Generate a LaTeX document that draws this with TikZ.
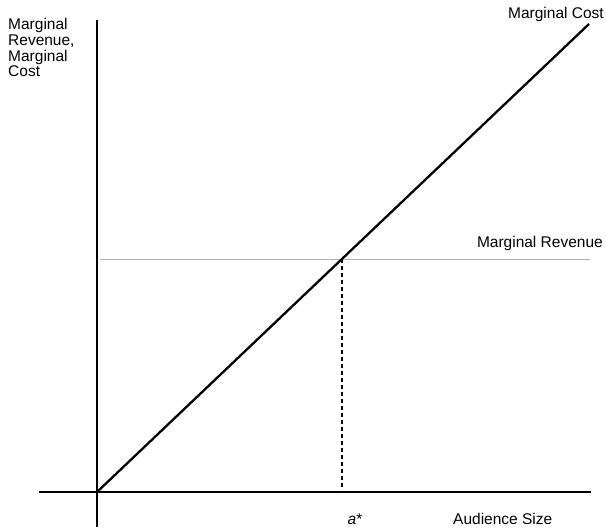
\documentclass[tikz,border=0pt]{standalone}
\usepackage{fontspec}
\setmainfont{Liberation Sans}
\usetikzlibrary{positioning}

\begin{document}
\begin{tikzpicture}[x=1pt,y=-1pt,
		axis/.style={line width=2.8pt},
		cost/.style={line width=2.3pt},
		revenue/.style={line width=0.9pt,black!30},
		guide/.style={line width=2.3pt,dash pattern=on 4pt off 3pt},
		lbl/.style={font=\fontsize{15.5}{15.8}\selectfont,inner sep=0pt}]
		\useasboundingbox (0,0) rectangle (606,531);
		% axes and curves
		\coordinate (origin) at (97,492);
		\coordinate (ytop) at (97,20);
		\coordinate (ybot) at (97,527);
		\coordinate (xleft) at (39,492);
		\coordinate (xright) at (591,492);
		\coordinate (mcend) at (589,24);
		\coordinate (mrleft) at (100,259);
		\coordinate (mrright) at (590,259);
		\coordinate (astar) at (342,259);
		\coordinate (afoot) at (342,490);

		\draw [axis] (ybot)--(ytop);
		\draw [axis] (xleft)--(xright);
		\draw [revenue] (mrleft)--(mrright);
		\draw [cost] (origin)--(mcend);
		\draw [guide] (astar)--(afoot);

		% labels
		\node [lbl,anchor=north west,align=left] (ylabel) at (8,18) {Marginal\\Revenue,\\Marginal\\Cost};
		\node [lbl,anchor=base east] (mclabel) at (604,18) {Marginal Cost};
		\node [lbl,anchor=base east] (mrlabel) at (603,247) {Marginal Revenue};
		\node [lbl,anchor=base] (alabel) at (355,524) {\itshape a\/\upshape*};
		\node [lbl,anchor=base west] (xlabel) at (453,524) {Audience Size};
\end{tikzpicture}
\end{document}
